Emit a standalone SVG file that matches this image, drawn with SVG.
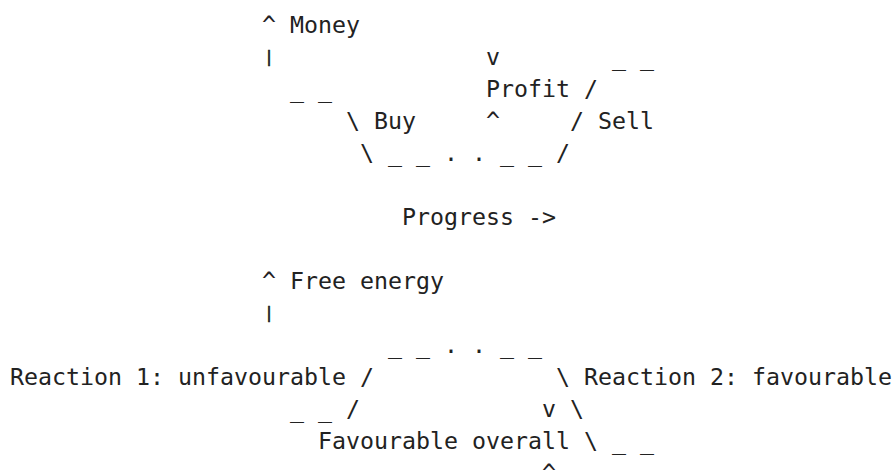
<svg xmlns="http://www.w3.org/2000/svg" width="896" height="473" viewBox="0 0 896 473">
<style>
text{font-family:"DejaVu Sans Mono","Liberation Mono",monospace;font-size:23.25px;fill:#222;white-space:pre}
.bar{font-size:15px;text-anchor:middle;stroke:#222;stroke-width:0.7}
</style>
<rect width="896" height="473" fill="#fff"/>
<g id="money-diagram">
<g id="axis-money"><text x="262" y="33">^ Money</text><text class="bar" x="269" y="62">|</text></g>
<g id="label-profit"><text x="486" y="65">v</text><text x="486" y="97">Profit</text><text x="486" y="129">^</text></g>
<g id="label-buy"><text x="374" y="129">Buy</text></g>
<g id="label-sell"><text x="598" y="129">Sell</text></g>
<g id="label-progress"><text x="402" y="225">Progress -&gt;</text></g>
<g id="connectors-money">
<text x="612" y="65">_ _</text>
<text x="290" y="97">_ _</text>
<text x="584" y="97">/</text>
<text x="346" y="129">\</text>
<text x="570" y="129">/</text>
<text x="360" y="161">\ _ _ . . _ _ /</text>
</g>
</g>
<g id="energy-diagram">
<g id="axis-energy"><text x="262" y="289">^ Free energy</text><text class="bar" x="269" y="318">|</text></g>
<g id="label-reaction1"><text x="10" y="385">Reaction 1: unfavourable</text></g>
<g id="label-reaction2"><text x="584" y="385">Reaction 2: favourable</text></g>
<g id="label-overall"><text x="542" y="417">v</text><text x="318" y="449">Favourable overall</text><text x="542" y="481">^</text></g>
<g id="connectors-energy">
<text x="388" y="353">_ _ . . _ _</text>
<text x="360" y="385">/</text>
<text x="556" y="385">\</text>
<text x="290" y="417">_ _ /</text>
<text x="570" y="417">\</text>
<text x="584" y="449">\ _ _</text>
</g>
</g>
</svg>
